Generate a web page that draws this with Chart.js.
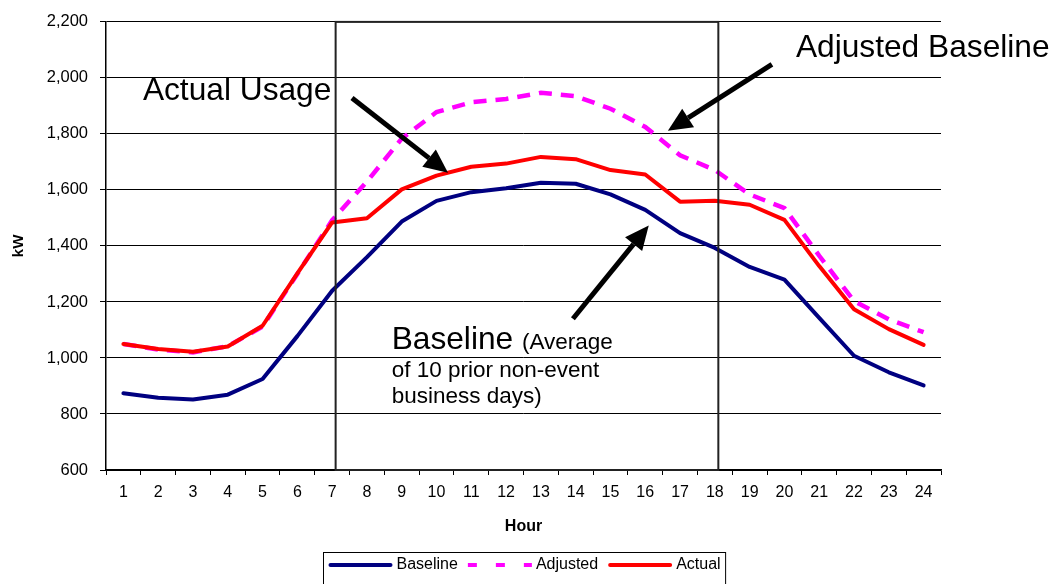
<!DOCTYPE html>
<html>
<head>
<meta charset="utf-8">
<title>Baseline vs Actual Usage</title>
<script src="https://cdn.jsdelivr.net/npm/chart.js@4.4.1/dist/chart.umd.min.js"></script>
<style>
  html, body { margin: 0; padding: 0; background: #fff; }
  #wrap { width: 1055px; height: 584px; position: relative; }
</style>
</head>
<body>
<div id="wrap"><canvas id="loadChart"></canvas></div>
<script>
// Hourly load, kW
const hours = ['1', '2', '3', '4', '5', '6', '7', '8', '9', '10', '11', '12',
               '13', '14', '15', '16', '17', '18', '19', '20', '21', '22', '23', '24'];
const baseline = [874, 858, 852, 869, 925, 1078, 1240, 1360, 1487, 1561, 1592, 1606,
                  1626, 1622, 1584, 1529, 1446, 1393, 1325, 1280, 1143, 1008, 949, 902];
const adjusted = [1050, 1030, 1020, 1042, 1112, 1300, 1492, 1630, 1783, 1878, 1913, 1925,
                  1947, 1935, 1890, 1825, 1724, 1671, 1584, 1535, 1365, 1203, 1138, 1092];
const actual = [1050, 1032, 1022, 1041, 1115, 1302, 1484, 1499, 1602, 1651, 1683, 1694,
                1718, 1710, 1671, 1655, 1558, 1561, 1547, 1493, 1328, 1174, 1103, 1047];
const yTicks = { min: 600, max: 2200, step: 200 };
// event window, in hour positions
const eventWindow = ['7', '18'];

const FONT = '"Liberation Sans", Arial, sans-serif';
const NAVY = '#000080';
const MAGENTA = '#ff00ff';
const RED = '#ff0000';

Chart.defaults.color = '#000';
Chart.defaults.font.family = FONT;

const fmt = (n) => new Intl.NumberFormat('en-US').format(n);

// x/y in data space -> pixels
function at(chart, idx, kw) {
    return { x: chart.scales.x.getPixelForValue(idx), y: chart.scales.y.getPixelForValue(kw) };
}

function arrow(ctx, a, b) {
    const ang = Math.atan2(b.y - a.y, b.x - a.x);
    const head = 24, half = 11;
    const bx = b.x - head * Math.cos(ang), by = b.y - head * Math.sin(ang);
    ctx.lineWidth = 5;
    ctx.beginPath();
    ctx.moveTo(a.x, a.y);
    ctx.lineTo(bx, by);
    ctx.stroke();
    ctx.beginPath();
    ctx.moveTo(b.x, b.y);
    ctx.lineTo(bx + half * Math.sin(ang), by - half * Math.cos(ang));
    ctx.lineTo(bx - half * Math.sin(ang), by + half * Math.cos(ang));
    ctx.closePath();
    ctx.fill();
}

// box around the event hours, arrows and callout text
const callouts = {
    id: 'callouts',
    afterDatasetsDraw(chart) {
        const ctx = chart.ctx;
        const xs = chart.scales.x;
        const i0 = hours.indexOf(eventWindow[0]) + 0.1;
        const i1 = hours.indexOf(eventWindow[1]) + 0.1;
        const top = chart.chartArea.top, bottom = chart.chartArea.bottom;
        ctx.save();
        ctx.strokeStyle = '#222';
        ctx.lineWidth = 2;
        ctx.strokeRect(xs.getPixelForValue(i0), top, xs.getPixelForValue(i1) - xs.getPixelForValue(i0), bottom - top);

        ctx.strokeStyle = '#000';
        ctx.fillStyle = '#000';
        arrow(ctx, at(chart, 6.57, 1928), at(chart, 9.33, 1661));
        arrow(ctx, at(chart, 18.64, 2048), at(chart, 15.65, 1811));
        arrow(ctx, at(chart, 12.92, 1140), at(chart, 15.1, 1473));

        ctx.textBaseline = 'alphabetic';
        ctx.textAlign = 'left';
        ctx.font = '31.7px ' + FONT;
        let p = at(chart, 0.56, 1921);
        ctx.fillText('Actual Usage', p.x, p.y);
        p = at(chart, 19.33, 2073);
        ctx.fillText('Adjusted Baseline', p.x, p.y);
        p = at(chart, 7.71, 1032);
        ctx.fillText('Baseline', p.x, p.y);
        const w = ctx.measureText('Baseline ').width;
        ctx.font = '22.5px ' + FONT;
        ctx.fillText('(Average', p.x + w, p.y);
        ctx.fillText('of 10 prior non-event', p.x, p.y + 28);
        ctx.fillText('business days)', p.x, p.y + 54);
        ctx.restore();
    }
};

// boxed legend at the bottom, long line samples like the original
const legendBox = {
    id: 'legendBox',
    afterDraw(chart) {
        const ctx = chart.ctx;
        const lineLen = 64, gapText = 4, gapItem = 10, pad = 5;
        ctx.save();
        ctx.font = '16px ' + FONT;
        const items = chart.data.datasets.map(d => ({ d, w: ctx.measureText(d.label).width }));
        const total = pad * 2 + items.reduce((s, it) => s + lineLen + gapText + it.w, 0) + gapItem * (items.length - 1);
        const x0 = Math.round((chart.width - total) / 2) - 2.5;
        const top = 552.5, cy = 565;
        ctx.strokeStyle = '#000';
        ctx.lineWidth = 1;
        ctx.strokeRect(x0, top, total, 40);
        let x = x0 + pad;
        items.forEach(({ d, w }) => {
            ctx.strokeStyle = d.borderColor;
            ctx.lineWidth = 4;
            ctx.lineCap = d.borderDash ? 'butt' : 'round';
            ctx.setLineDash(d.borderDash ? [9, 19] : []);
            ctx.beginPath();
            ctx.moveTo(x + (d.borderDash ? 0 : 2), cy);
            ctx.lineTo(x + lineLen - (d.borderDash ? 0 : 2), cy);
            ctx.stroke();
            ctx.setLineDash([]);
            ctx.fillStyle = '#000';
            ctx.textBaseline = 'middle';
            ctx.fillText(d.label, x + lineLen + gapText, cy);
            x += lineLen + gapText + w + gapItem;
        });
        ctx.restore();
    }
};

new Chart(document.getElementById('loadChart'), {
    type: 'line',
    data: {
        labels: hours,
        datasets: [
            {
                label: 'Baseline',
                data: baseline,
                borderColor: NAVY,
                borderWidth: 4,
                borderCapStyle: 'round',
                borderJoinStyle: 'round',
                order: 2
            },
            {
                label: 'Adjusted',
                data: adjusted,
                borderColor: MAGENTA,
                borderWidth: 4.5,
                borderDash: [13, 9],
                order: 1
            },
            {
                label: 'Actual',
                data: actual,
                borderColor: RED,
                borderWidth: 4,
                borderCapStyle: 'round',
                borderJoinStyle: 'round',
                order: 0
            }
        ]
    },
    options: {
        responsive: true,
        maintainAspectRatio: false,
        animation: false,
        layout: { padding: { left: 0, top: 19, right: 114, bottom: 0 } },
        elements: { point: { radius: 0, hoverRadius: 0 }, line: { tension: 0 } },
        plugins: { legend: { display: false }, tooltip: { enabled: false } },
        scales: {
            x: {
                offset: true,
                grid: { offset: true, drawOnChartArea: false, drawTicks: true, tickLength: 5, color: '#000' },
                border: { color: '#000', width: 1.5 },
                ticks: { font: { size: 16 }, padding: 8, maxRotation: 0, autoSkip: false },
                title: { display: true, text: 'Hour', font: { size: 16, weight: 'bold' }, padding: { top: 0, bottom: 48 } },
                afterFit: (s) => { s.height = 114; }
            },
            y: {
                min: yTicks.min,
                max: yTicks.max,
                grid: { color: '#000', lineWidth: 1, tickLength: 6 },
                border: { color: '#000', width: 1.5 },
                ticks: { stepSize: yTicks.step, font: { size: 16.5 }, padding: 12, callback: (v) => fmt(v) },
                title: { display: true, text: 'kW', font: { size: 15, weight: 'bold' }, padding: { top: 10, bottom: 0 } },
                afterFit: (s) => { s.width = 106; }
            }
        }
    },
    plugins: [callouts, legendBox]
});
</script>
</body>
</html>
